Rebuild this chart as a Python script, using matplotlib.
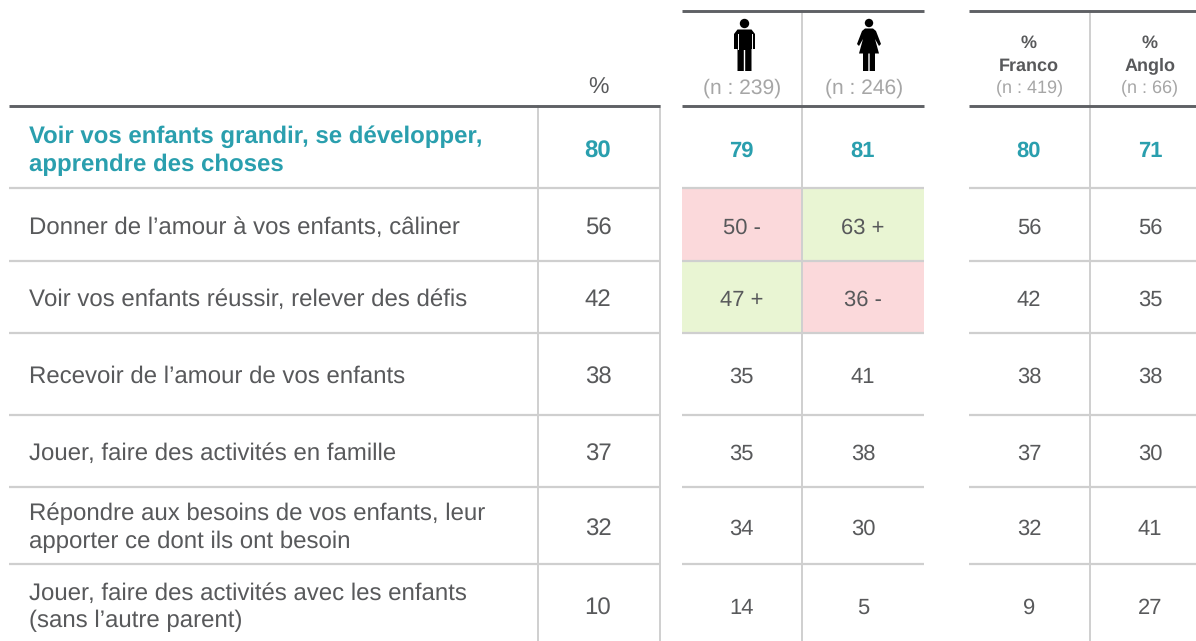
"""
Table of survey results by gender and language.
"""

import matplotlib
matplotlib.use("Agg")
import matplotlib.pyplot as plt
from matplotlib.patches import Rectangle, Polygon, Circle

plt.rcParams["text.hinting"] = "none"
plt.rcParams["text.hinting_factor"] = 1

# Data
labels = [
    "Voir vos enfants grandir, se développer,\napprendre des choses",
    "Donner de l’amour à vos enfants, câliner",
    "Voir vos enfants réussir, relever des défis",
    "Recevoir de l’amour de vos enfants",
    "Jouer, faire des activités en famille",
    "Répondre aux besoins de vos enfants, leur\napporter ce dont ils ont besoin",
    "Jouer, faire des activités avec les enfants\n(sans l’autre parent)",
]
total = ["80", "56", "42", "38", "37", "32", "10"]
men = ["79", "50 -", "47 +", "35", "35", "34", "14"]
women = ["81", "63 +", "36 -", "41", "38", "30", "5"]
franco = ["80", "56", "42", "38", "37", "32", "9"]
anglo = ["71", "56", "35", "38", "30", "41", "27"]
n_men = "(n : 239)"
n_women = "(n : 246)"
n_franco = "(n : 419)"
n_anglo = "(n : 66)"

# Layout, in image pixels
W, H = 1196, 641
row_lines = [106, 188, 261, 333, 415, 487, 564, 641]
row_mid = [149, 226, 298, 375, 452, 527, 606]
col_mid = [598, 741.5, 863, 1029, 1150]
blocks = [(9, 660), (682, 924), (969, 1196)]

DARK = "#58595b"
GREY = "#a6a6a6"
LINE = "#cfcfcf"
HEAD = "#5f6165"
TEAL = "#2a9fae"
RED = "#fbd9db"
GREEN = "#e9f5d3"
FONT = "Liberation Sans"

fig = plt.figure(figsize=(W / 100, H / 100), dpi=100)
ax = fig.add_axes([0, 0, 1, 1])
ax.set_xlim(0, W)
ax.set_ylim(H, 0)
ax.axis("off")


def txt(x, y, s, size, color=DARK, weight="normal", ha="center"):
    # baseline placement, so digits of every row sit the same way around y
    base = y + 0.36 * size * 100 / 72
    ax.text(x, base, s, fontsize=size, color=color, fontweight=weight, ha=ha,
            va="baseline", family=FONT)


# Shaded cells
ax.add_patch(Rectangle((682, 188), 120, 73, fc=RED, ec="none"))
ax.add_patch(Rectangle((802, 188), 122, 73, fc=GREEN, ec="none"))
ax.add_patch(Rectangle((682, 261), 120, 72, fc=GREEN, ec="none"))
ax.add_patch(Rectangle((802, 261), 122, 72, fc=RED, ec="none"))

# Horizontal rules
for y in row_lines[1:-1]:
    for x0, x1 in blocks:
        ax.plot([x0, x1], [y, y], color=LINE, lw=1.6, solid_capstyle="butt", zorder=2)
for x0, x1 in blocks:
    ax.plot([x0, x1], [106, 106], color=HEAD, lw=2.1, solid_capstyle="butt", zorder=3)
for x0, x1 in blocks[1:]:
    ax.plot([x0, x1], [11, 11], color=HEAD, lw=2.1, solid_capstyle="butt", zorder=3)

# Vertical rules
for x in [538, 660]:
    ax.plot([x, x], [106, H], color=LINE, lw=1.4, zorder=2)
for x in [802, 1090]:
    ax.plot([x, x], [11, H], color=LINE, lw=1.4, zorder=2)

# Header
txt(598, 86, "%", 16.5)
txt(742, 86, n_men, 15.2, GREY)
txt(864, 86, n_women, 15.2, GREY)
txt(1029, 41, "%", 13.3, weight="bold")
txt(1029, 64, "Franco", 13.3, weight="bold")
txt(1030, 86, n_franco, 13.2, GREY)
txt(1150, 41, "%", 13.3, weight="bold")
txt(1150, 64, "Anglo", 13.3, weight="bold")
txt(1150, 86, n_anglo, 13.2, GREY)

# Man icon
cx = 744.5
ax.add_patch(Circle((cx, 23.5), 4.7, fc="black", ec="none"))
ax.add_patch(Polygon([(cx - 10.5, 34), (cx - 7, 29.5), (cx + 7, 29.5), (cx + 10.5, 34),
                      (cx + 10.5, 49), (cx + 7, 49), (cx + 7, 71), (cx + 0.7, 71),
                      (cx + 0.7, 50), (cx - 0.7, 50), (cx - 0.7, 71), (cx - 7, 71),
                      (cx - 7, 49), (cx - 10.5, 49)],
                     fc="black", ec="none"))
for sign in [-1, 1]:
    ax.plot([cx + sign * 7, cx + sign * 7], [34, 49], color="white", lw=0.7, zorder=3)

# Woman icon
cx = 869
ax.add_patch(Circle((cx, 23), 4.2, fc="black", ec="none"))
ax.add_patch(Polygon([(cx - 4, 28.5), (cx + 4, 28.5), (cx + 7, 31), (cx + 12, 44), (cx + 10, 46),
                      (cx + 6, 39), (cx + 10, 53.5), (cx + 6, 53.5), (cx + 6, 71), (cx + 0.7, 71),
                      (cx + 0.7, 53.5), (cx - 0.7, 53.5), (cx - 0.7, 71), (cx - 6, 71), (cx - 6, 53.5),
                      (cx - 10, 53.5), (cx - 6, 39), (cx - 10, 46), (cx - 12, 44), (cx - 7, 31)],
                     fc="black", ec="none"))

# Rows
for i, label in enumerate(labels):
    y = row_mid[i]
    first = i == 0
    color = TEAL if first else DARK
    weight = "bold" if first else "normal"
    size = 17.2 if first else 17
    if "\n" in label:
        line1, line2 = label.split("\n")
        txt(29, y - 15, line1, size, color, weight, ha="left")
        txt(29, y + 13, line2, size, color, weight, ha="left")
    else:
        txt(29, y - 0.5, label, size, color, weight, ha="left")
    txt(col_mid[0], y, total[i], 17, color, weight)
    for x, col in zip(col_mid[1:], [men, women, franco, anglo]):
        txt(x, y, col[i], 16, color, weight)

fig.savefig("out.png", dpi=100)
